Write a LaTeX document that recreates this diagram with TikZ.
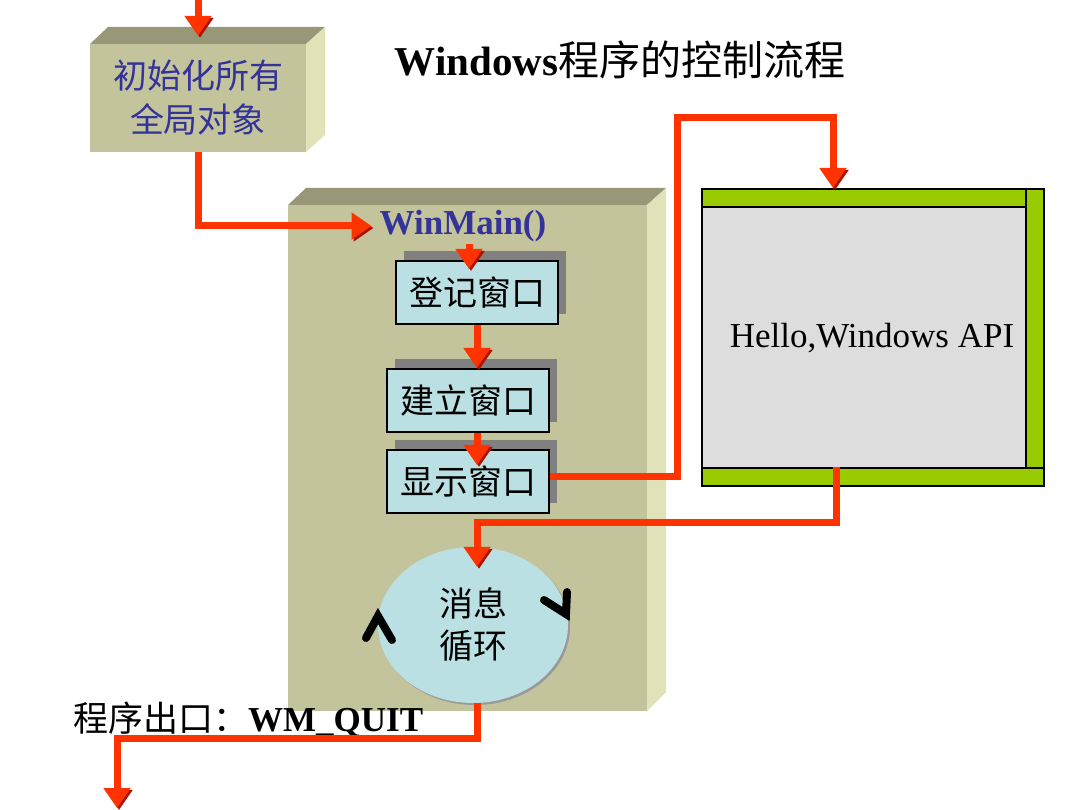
\documentclass[tikz,border=0pt]{standalone}
\usepackage{fontspec}
\setmainfont{Liberation Serif}
\newfontfamily\cjk{Noto Sans CJK SC}
\usetikzlibrary{arrows.meta,shapes.geometric,shadows,calc}
\definecolor{arrowred}{RGB}{255,51,0}
\definecolor{arrowdark}{RGB}{170,20,0}
\definecolor{boxfront}{RGB}{196,196,156}
\definecolor{boxtop}{RGB}{152,152,120}
\definecolor{boxside}{RGB}{226,226,184}
\definecolor{navy}{RGB}{51,51,153}
\definecolor{paleblue}{RGB}{187,224,227}
\definecolor{wingreen}{RGB}{153,204,0}
\definecolor{wingray}{RGB}{221,221,221}
\definecolor{shadowgray}{RGB}{128,128,128}
\tikzset{
  redarrow/.style={draw=arrowred, line width=7pt, line join=miter,
    -{Triangle[width=26pt,length=20pt]},
    preaction={draw=arrowdark, transform canvas={shift={(2pt,-2pt)}}}},
  frontface/.style={fill=boxfront, inner sep=0pt},
  smallbox/.style={draw=black, line width=2pt, fill=paleblue, minimum width=162pt,
    minimum height=63pt, inner sep=0pt, font=\cjk\fontsize{34}{40}\selectfont,
    drop shadow={shadow xshift=8pt, shadow yshift=10pt, fill=shadowgray, opacity=1}},
  chevron/.style={draw=black, line width=8pt, line cap=round, line join=miter}
}
\begin{document}
\begin{tikzpicture}[x=1pt,y=-1pt]
\useasboundingbox (0,0) rectangle (1080,810);

% title
\node[font=\fontsize{41}{48}\selectfont, inner sep=0pt] (title) at (620,60)
  {\textbf{Windows}{\cjk 程序的控制流程}};

% 3D box: init
\fill[boxtop] (90,44) -- (108,27) -- (325,27) -- (306,44) -- cycle;
\fill[boxside] (306,44) -- (325,27) -- (325,135) -- (306,152) -- cycle;
\node[frontface, minimum width=216pt, minimum height=108pt, text=navy, align=center,
  font=\cjk\fontsize{34}{44}\selectfont] (init) at (198,98) {初始化所有\\全局对象};

% 3D box: WinMain
\fill[boxtop] (288,205) -- (306,188) -- (666,188) -- (647,205) -- cycle;
\fill[boxside] (647,205) -- (666,188) -- (666,692) -- (647,711) -- cycle;
\node[frontface, minimum width=359pt, minimum height=506pt] (winbox) at (467.5,458) {};
\node[font=\bfseries\fontsize{35}{40}\selectfont, text=navy, inner sep=2pt] (winmain) at (463,226) {WinMain()};

% small boxes
\node[smallbox] (reg) at (477,292.5) {登记窗口};
\node[smallbox] (create) at (468,400.5) {建立窗口};
\node[smallbox] (show) at (468,481.5) {显示窗口};

% message loop
\node[ellipse, fill=paleblue, minimum width=190pt, minimum height=156pt, inner sep=0pt,
  align=center, font=\cjk\fontsize{34}{42}\selectfont,
  drop shadow={shadow xshift=2pt, shadow yshift=-2pt, fill=gray!80, opacity=1}] (loop) at (473,625) {消息\\循环};
\draw[chevron] (366,638) -- (378,616) -- (392,640);
\draw[chevron] (544,600) -- (566,614) -- (567,592);

% window
\node[draw=black, line width=2pt, fill=wingreen, minimum width=342pt, minimum height=297pt, inner sep=0pt] (win) at (873,337.5) {};
\draw[line width=2pt, fill=wingray] (702,207) rectangle (1026,468);
\draw[line width=2pt] (1026,189) -- (1026,207);
\draw[line width=2pt] (1026,468) -- (1044,468);
\node[font=\fontsize{35}{40}\selectfont, inner sep=0pt] (hello) at (872,338) {Hello,Windows API};

% exit label
\node[anchor=west, font=\fontsize{35}{40}\selectfont, inner sep=0pt] (exitlabel) at (73,720)
  {{\cjk 程序出口：}\textbf{WM\_QUIT}};

% connectors
\coordinate (topin) at (198,-2);
\draw[redarrow] (topin) -- ([yshift=8pt]init.north);
\draw[redarrow, shorten >=6pt] (init.south) |- (winmain.west);
\draw[redarrow] ([xshift=-8pt]winmain.south -| reg.north) -- ([xshift=-8pt,yshift=-9pt]reg.north);
\draw[redarrow] (reg.south) -- (reg.south |- create.north);
\draw[redarrow] (reg.south |- create.south) -- ($(reg.south |- show.north)+(0,16)$);
\coordinate (up1) at (677,118);
\draw[redarrow] ([yshift=5pt]show.east) -| (up1) -| ([xshift=-40pt]win.north);
\coordinate (wout) at (836,467);
\coordinate (j2) at (836,522);
\draw[redarrow] (wout) -- (j2) -| ($(loop.north)+(4,20)$);
\coordinate (j3) at (117,738);
\coordinate (exitend) at (117,808);
\draw[redarrow] ($(loop.south)+(4,0)$) |- (j3) -- (exitend);
\end{tikzpicture}
\end{document}
